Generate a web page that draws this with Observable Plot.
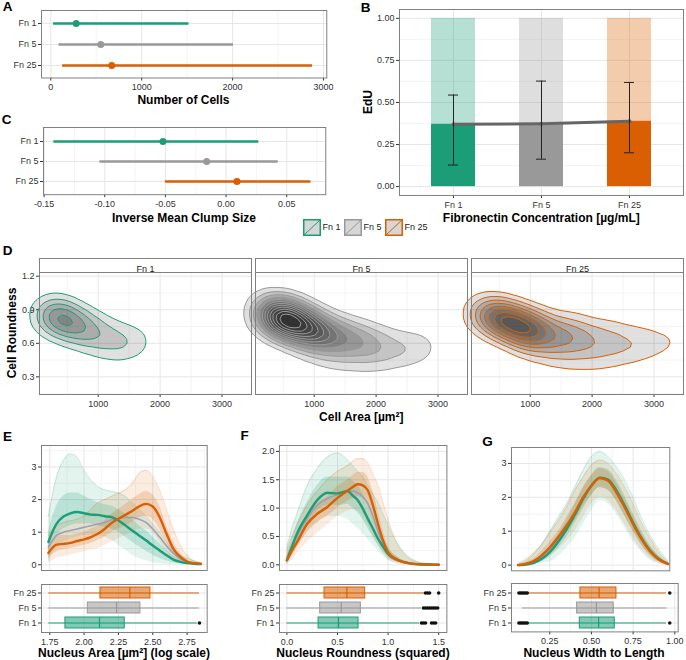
<!DOCTYPE html>
<html>
<head>
<meta charset="utf-8">
<script src="https://cdn.jsdelivr.net/npm/d3@7"></script>
<script src="https://cdn.jsdelivr.net/npm/@observablehq/plot@0.6"></script>
<style>
html,body{margin:0;padding:0;background:#fff;}
#fig{position:relative;width:686px;height:660px;overflow:hidden;background:#fff;font-family:"Liberation Sans",Arial,Helvetica,sans-serif;color:#000;}
.t{position:absolute;white-space:nowrap;line-height:1;transform:translate(-50%,-50%);}
.title{font-weight:bold;font-size:12px;}
.letter{font-weight:bold;font-size:13.5px;}
.rot{transform:translate(-50%,-50%) rotate(-90deg);}
</style>
</head>
<body>
<div id="fig"></div>
<script>
// ================= DATA =================
const groups = ["Fn 1", "Fn 5", "Fn 25"];
const groupColors = ["#1b9e77", "#999999", "#d95f02"];

// A: Number of cells (range and mean)
const cellsLow = [30, 90, 130];
const cellsMean = [280, 550, 670];
const cellsHigh = [1520, 2010, 2880];
const cellTicks = [0, 1000, 2000, 3000];
const cellMinor = [500, 1500, 2500];

// C: Inverse mean clump size
const clumpLow = [-0.142, -0.104, -0.050];
const clumpMean = [-0.052, -0.016, 0.009];
const clumpHigh = [0.027, 0.043, 0.070];
const clumpTicks = [-0.15, -0.10, -0.05, 0.00, 0.05];
const clumpMinor = [-0.125, -0.075, -0.025, 0.025, 0.075];

// B: EdU
const eduTotal = [1, 1, 1];
const eduMean = [0.370, 0.374, 0.388];
const eduLow = [0.128, 0.163, 0.201];
const eduHigh = [0.544, 0.627, 0.619];
const eduTicks = [0, 0.25, 0.5, 0.75, 1];
const eduMinor = [0.125, 0.375, 0.625, 0.875];

// D: cell area vs roundness, weighted ridge points
const fn1Area   = [100, 250, 400, 550, 700, 850, 1000, 1150, 1300, 1450, 1600, 1700, 1800, 600, 900, 1200, 1450, 350];
const fn1Round  = [0.86, 0.84, 0.82, 0.79, 0.76, 0.73, 0.70, 0.67, 0.65, 0.63, 0.62, 0.62, 0.62, 0.65, 0.57, 0.53, 0.53, 0.92];
const fn1Weight = [1.5, 3, 3.5, 3, 2.4, 1.9, 1.5, 1.2, 1.0, 0.9, 0.8, 0.55, 0.3, 0.6, 0.7, 0.8, 0.6, 0.6];
const fn5Area   = [150, 300, 450, 600, 750, 900, 1050, 1200, 1400, 1600, 1800, 2000, 2250, 2500, 2750, 2950, 700, 1000, 1300, 1650, 2000, 2350, 2650, 400, 700];
const fn5Round  = [0.88, 0.85, 0.82, 0.80, 0.77, 0.74, 0.71, 0.68, 0.66, 0.64, 0.62, 0.60, 0.58, 0.57, 0.57, 0.58, 0.60, 0.52, 0.47, 0.44, 0.44, 0.47, 0.51, 0.92, 0.88];
const fn5Weight = [3, 5, 8, 8, 7, 6, 5, 4.5, 4, 3.3, 2.7, 2.2, 1.7, 1.4, 1.0, 0.6, 1, 1.2, 1.4, 1.4, 1.2, 0.8, 0.5, 1.5, 1.2];
const fn25Area   = [150, 300, 450, 600, 750, 900, 1050, 1200, 1400, 1600, 1800, 2000, 2250, 2500, 2750, 3000, 3250, 3400, 3450, 900, 1200, 1500, 1850, 2200, 2550, 2900, 1700, 2300, 2800];
const fn25Round  = [0.87, 0.86, 0.83, 0.80, 0.77, 0.74, 0.72, 0.70, 0.68, 0.66, 0.65, 0.64, 0.63, 0.62, 0.61, 0.61, 0.61, 0.62, 0.62, 0.58, 0.52, 0.48, 0.45, 0.46, 0.49, 0.52, 0.78, 0.74, 0.70];
const fn25Weight = [2, 3.2, 4.5, 5.5, 5.5, 5, 4.3, 3.7, 3.1, 2.7, 2.3, 2.0, 1.7, 1.4, 1.1, 0.9, 0.7, 0.5, 0.3, 1, 1.3, 1.5, 1.5, 1.3, 1, 0.6, 0.8, 0.7, 0.4];
const areaTicks = [1000, 2000, 3000];
const areaMinor = [500, 1500, 2500];
const roundTicks = [0.3, 0.6, 0.9, 1.2];
const roundMinor = [0.15, 0.45, 0.75, 1.05];

// E: nucleus area (log) densities: mean curves, outer envelope and dense core of the per-well curves
const eX        = [1.74, 1.80, 1.85, 1.90, 1.95, 2.00, 2.05, 2.10, 2.15, 2.20, 2.25, 2.30, 2.35, 2.40, 2.45, 2.50, 2.55, 2.60, 2.65, 2.70, 2.75, 2.80, 2.85];
const eFn1      = [0.70, 1.26, 1.48, 1.58, 1.62, 1.58, 1.54, 1.53, 1.49, 1.46, 1.36, 1.21, 1.05, 0.90, 0.75, 0.59, 0.44, 0.29, 0.16, 0.09, 0.05, 0.03, 0.02];
const eFn5      = [0.55, 0.90, 1.00, 1.05, 1.10, 1.15, 1.20, 1.25, 1.30, 1.38, 1.42, 1.45, 1.45, 1.40, 1.30, 1.10, 0.85, 0.58, 0.35, 0.18, 0.08, 0.04, 0.02];
const eFn25     = [0.36, 0.62, 0.64, 0.67, 0.73, 0.78, 0.85, 0.95, 1.10, 1.28, 1.41, 1.53, 1.65, 1.79, 1.87, 1.79, 1.46, 0.95, 0.49, 0.24, 0.10, 0.05, 0.03];
const eFn1Lo    = [0.10, 0.50, 0.70, 0.80, 0.85, 0.90, 0.90, 0.90, 0.85, 0.75, 0.60, 0.45, 0.30, 0.20, 0.12, 0.06, 0.03, 0.02, 0.01, 0, 0, 0, 0];
const eFn1Hi    = [1.50, 2.70, 3.20, 3.40, 3.30, 2.90, 2.60, 2.40, 2.30, 2.25, 2.20, 2.10, 1.90, 1.70, 1.50, 1.25, 1.00, 0.70, 0.45, 0.30, 0.20, 0.12, 0.07];
const eFn1CoreLo = [0.40, 0.90, 1.10, 1.20, 1.25, 1.25, 1.25, 1.20, 1.15, 1.10, 1.00, 0.85, 0.70, 0.55, 0.42, 0.30, 0.20, 0.12, 0.06, 0.03, 0.01, 0, 0];
const eFn1CoreHi = [1.00, 1.80, 2.10, 2.20, 2.20, 2.10, 2.00, 1.90, 1.85, 1.80, 1.70, 1.55, 1.40, 1.20, 1.05, 0.85, 0.65, 0.45, 0.28, 0.16, 0.09, 0.05, 0.03];
const eFn25Lo   = [0.05, 0.20, 0.25, 0.30, 0.35, 0.40, 0.45, 0.50, 0.60, 0.70, 0.80, 0.90, 1.00, 1.10, 1.10, 1.00, 0.70, 0.40, 0.20, 0.10, 0.03, 0.01, 0];
const eFn25Hi   = [0.90, 1.20, 1.30, 1.35, 1.40, 1.50, 1.70, 1.90, 2.00, 2.10, 2.20, 2.30, 2.50, 2.80, 2.90, 2.70, 2.30, 1.70, 1.10, 0.60, 0.30, 0.12, 0.05];
const eFn25CoreLo = [0.20, 0.40, 0.45, 0.50, 0.55, 0.60, 0.65, 0.75, 0.85, 1.00, 1.10, 1.20, 1.30, 1.45, 1.50, 1.40, 1.10, 0.70, 0.35, 0.15, 0.06, 0.02, 0];
const eFn25CoreHi = [0.55, 0.85, 0.90, 0.90, 0.95, 1.00, 1.10, 1.20, 1.35, 1.55, 1.70, 1.85, 2.00, 2.15, 2.25, 2.15, 1.80, 1.20, 0.70, 0.35, 0.15, 0.07, 0.04];
const eBoxLow = [1.743, 1.743, 1.743];
const eBoxQ1  = [1.864, 2.027, 2.119];
const eBoxMed = [2.112, 2.236, 2.333];
const eBoxQ3  = [2.296, 2.410, 2.483];
const eBoxHigh = [2.825, 2.840, 2.840];
const eOutFn1 = [2.84], eOutFn5 = [], eOutFn25 = [];
const eTicks = [1.75, 2.00, 2.25, 2.50, 2.75];
const eMinor = [1.875, 2.125, 2.375, 2.625, 2.875];
const eYTicks = [0, 1, 2, 3];
const eYMinor = [0.5, 1.5, 2.5, 3.5];

// F: nucleus roundness (squared)
const fX        = [0, 0.05, 0.1, 0.2, 0.3, 0.4, 0.5, 0.6, 0.65, 0.7, 0.75, 0.8, 0.85, 0.9, 0.95, 1.0, 1.1, 1.2, 1.3, 1.4, 1.5];
const fFn1      = [0.08, 0.32, 0.55, 0.87, 1.14, 1.27, 1.26, 1.30, 1.22, 1.14, 0.99, 0.81, 0.64, 0.46, 0.32, 0.19, 0.08, 0.03, 0.01, 0.005, 0];
const fFn5      = [0.08, 0.30, 0.50, 0.82, 1.05, 1.17, 1.24, 1.30, 1.30, 1.27, 1.20, 1.08, 0.86, 0.60, 0.38, 0.21, 0.08, 0.03, 0.01, 0, 0];
const fFn25     = [0.08, 0.25, 0.40, 0.72, 0.90, 1.02, 1.18, 1.31, 1.37, 1.42, 1.40, 1.31, 1.05, 0.72, 0.43, 0.22, 0.08, 0.03, 0.01, 0.005, 0];
const fFn1Lo    = [0, 0.12, 0.30, 0.55, 0.75, 0.85, 0.85, 0.80, 0.72, 0.65, 0.55, 0.45, 0.35, 0.25, 0.15, 0.08, 0.02, 0, 0, 0, 0];
const fFn1Hi    = [0.30, 0.65, 0.90, 1.40, 1.70, 1.90, 1.97, 1.85, 1.75, 1.65, 1.55, 1.40, 1.25, 1.10, 0.90, 0.70, 0.35, 0.15, 0.05, 0.02, 0.01];
const fFn1CoreLo = [0.03, 0.22, 0.42, 0.72, 0.95, 1.05, 1.05, 1.07, 1.00, 0.92, 0.80, 0.64, 0.50, 0.35, 0.23, 0.13, 0.05, 0.015, 0, 0, 0];
const fFn1CoreHi = [0.15, 0.45, 0.72, 1.10, 1.40, 1.55, 1.55, 1.55, 1.48, 1.40, 1.25, 1.05, 0.85, 0.65, 0.47, 0.30, 0.13, 0.05, 0.02, 0.01, 0];
const fFn25Lo   = [0, 0.08, 0.20, 0.40, 0.55, 0.70, 0.85, 0.95, 0.97, 0.95, 0.85, 0.70, 0.50, 0.35, 0.20, 0.10, 0.02, 0, 0, 0, 0];
const fFn25Hi   = [0.25, 0.50, 0.70, 1.05, 1.30, 1.50, 1.65, 1.75, 1.82, 1.87, 1.87, 1.80, 1.60, 1.40, 1.10, 0.80, 0.35, 0.12, 0.04, 0.01, 0];
const fFn25CoreLo = [0.03, 0.17, 0.30, 0.58, 0.74, 0.86, 1.00, 1.12, 1.17, 1.20, 1.17, 1.05, 0.82, 0.55, 0.30, 0.15, 0.04, 0.01, 0, 0, 0];
const fFn25CoreHi = [0.15, 0.36, 0.52, 0.88, 1.08, 1.20, 1.38, 1.50, 1.57, 1.63, 1.63, 1.55, 1.30, 0.95, 0.60, 0.33, 0.13, 0.05, 0.02, 0.005, 0];
const fBoxLow = [0, 0, 0];
const fBoxQ1  = [0.313, 0.329, 0.372];
const fBoxMed = [0.510, 0.537, 0.593];
const fBoxQ3  = [0.708, 0.731, 0.774];
const fBoxHigh = [1.31, 1.33, 1.36];
const fOutFn1 = [1.33, 1.35, 1.37, 1.43, 1.45, 1.47];
const fOutFn5 = [1.35, 1.37, 1.39, 1.41, 1.43, 1.45, 1.47, 1.49];
const fOutFn25 = [1.37, 1.39, 1.41, 1.50];
const fTicks = [0, 0.5, 1.0, 1.5];
const fMinor = [0.25, 0.75, 1.25];
const fYTicks = [0, 0.5, 1.0, 1.5, 2.0];
const fYMinor = [0.25, 0.75, 1.25, 1.75];

// G: nucleus width to length
const gX        = [0.06, 0.1, 0.15, 0.2, 0.25, 0.3, 0.35, 0.4, 0.45, 0.5, 0.55, 0.6, 0.65, 0.7, 0.75, 0.8, 0.85, 0.9, 0.96];
const gFn1      = [0, 0.01, 0.06, 0.18, 0.38, 0.68, 1.05, 1.48, 1.95, 2.35, 2.58, 2.52, 2.20, 1.75, 1.25, 0.80, 0.44, 0.20, 0.04];
const gFn5      = [0, 0.02, 0.08, 0.22, 0.44, 0.75, 1.10, 1.50, 1.97, 2.35, 2.56, 2.50, 2.17, 1.72, 1.23, 0.78, 0.43, 0.19, 0.03];
const gFn25     = [0, 0.03, 0.11, 0.28, 0.52, 0.82, 1.16, 1.55, 2.00, 2.34, 2.57, 2.49, 2.14, 1.70, 1.21, 0.77, 0.42, 0.18, 0.03];
const gFn1Lo    = [0, 0, 0, 0.05, 0.10, 0.25, 0.50, 0.80, 1.20, 1.60, 1.90, 1.80, 1.50, 1.10, 0.70, 0.40, 0.15, 0.05, 0];
const gFn1Hi    = [0.02, 0.10, 0.30, 0.60, 1.00, 1.40, 1.80, 2.30, 2.80, 3.20, 3.35, 3.20, 2.90, 2.50, 2.00, 1.40, 0.90, 0.50, 0.12];
const gFn1CoreLo = [0, 0, 0.02, 0.10, 0.25, 0.50, 0.82, 1.22, 1.65, 2.05, 2.28, 2.20, 1.90, 1.45, 1.00, 0.60, 0.30, 0.12, 0.02];
const gFn1CoreHi = [0.01, 0.03, 0.12, 0.30, 0.55, 0.90, 1.30, 1.78, 2.25, 2.65, 2.88, 2.82, 2.50, 2.05, 1.52, 1.02, 0.60, 0.30, 0.07];
const gFn25Lo   = [0, 0, 0.02, 0.10, 0.25, 0.45, 0.70, 1.00, 1.40, 1.80, 2.00, 1.90, 1.60, 1.20, 0.80, 0.45, 0.20, 0.05, 0];
const gFn25Hi   = [0.05, 0.15, 0.35, 0.60, 0.95, 1.30, 1.70, 2.20, 2.60, 2.95, 3.10, 3.00, 2.70, 2.30, 1.80, 1.25, 0.80, 0.40, 0.10];
const gFn25CoreLo = [0, 0.01, 0.06, 0.18, 0.38, 0.65, 0.95, 1.30, 1.72, 2.06, 2.30, 2.22, 1.88, 1.45, 1.00, 0.60, 0.30, 0.10, 0.01];
const gFn25CoreHi = [0.02, 0.07, 0.18, 0.40, 0.68, 1.00, 1.40, 1.82, 2.30, 2.63, 2.85, 2.77, 2.42, 1.96, 1.45, 0.96, 0.56, 0.28, 0.06];
const gBoxLow = [0.125, 0.085, 0.125];
const gBoxQ1  = [0.430, 0.414, 0.434];
const gBoxMed = [0.543, 0.530, 0.546];
const gBoxQ3  = [0.640, 0.634, 0.650];
const gBoxHigh = [0.950, 0.954, 0.950];
const gOutFn1 = [0.065, 0.075, 0.085, 0.095, 0.105, 0.115, 0.97];
const gOutFn5 = [];
const gOutFn25 = [0.065, 0.075, 0.085, 0.095, 0.105, 0.115, 0.97];
const gTicks = [0.25, 0.50, 0.75, 1.00];
const gMinor = [0.125, 0.375, 0.625, 0.875];
const gYTicks = [0, 1, 2, 3];
const gYMinor = [0.5, 1.5, 2.5];

// ================= STYLE =================
const [GREEN, GRAY, ORANGE] = groupColors;
const MAJOR = "#e6e6e6", MINOR = "#f4f4f4", BORDER = "#808080";
const fig = document.getElementById("fig");
const baseStyle = {fontFamily: '"Liberation Sans", Arial, Helvetica, sans-serif', fontSize: "9px", color: "#333", background: "none", overflow: "visible"};
const colorScale = {domain: groups, range: groupColors};

function place(frame, margins, opts) {
  const [x0, y0, x1, y1] = frame;
  const [mt, mr, mb, ml] = margins;
  const svg = Plot.plot({
    width: x1 - x0 + ml + mr,
    height: y1 - y0 + mt + mb,
    marginTop: mt, marginRight: mr, marginBottom: mb, marginLeft: ml,
    style: baseStyle,
    ...opts
  });
  svg.style.position = "absolute";
  svg.style.left = (x0 - ml) + "px";
  svg.style.top = (y0 - mt) + "px";
  svg.style.maxWidth = "none";
  svg.style.overflow = "visible";
  fig.appendChild(svg);
  return svg;
}
function text(str, x, y, cls) {
  const d = document.createElement("div");
  d.className = "t " + cls;
  d.textContent = str;
  d.style.left = x + "px";
  d.style.top = y + "px";
  fig.appendChild(d);
}
const inside = (arr, dom) => arr.filter(v => v >= dom[0] && v <= dom[1]);

// ================= PANEL A =================
const aTable = groups.map((g, i) => ({g, lo: cellsLow[i], mid: cellsMean[i], hi: cellsHigh[i]}));
place([40.7, 9.5, 326, 77], [2, 4, 18, 38], {
  x: {domain: [-102, 3036], ticks: cellTicks, tickFormat: d => String(d), label: null, tickSize: 3, tickPadding: 3},
  y: {type: "point", domain: groups, padding: 0.6, label: null, tickSize: 3, tickPadding: 2},
  color: colorScale,
  marks: [
    Plot.ruleX(cellMinor, {stroke: MINOR}),
    Plot.ruleX(cellTicks, {stroke: MAJOR}),
    Plot.ruleY(groups, {stroke: MAJOR}),
    Plot.ruleY(aTable, {y: "g", x1: "lo", x2: "hi", stroke: "g", strokeWidth: 2.7}),
    Plot.dot(aTable, {y: "g", x: "mid", fill: "g", r: 3.5}),
    Plot.frame({stroke: BORDER})
  ]
});

// ================= PANEL C =================
const cTable = groups.map((g, i) => ({g, lo: clumpLow[i], mid: clumpMean[i], hi: clumpHigh[i]}));
place([42.7, 127.4, 325, 194.6], [2, 4, 18, 40], {
  x: {domain: [-0.1505, 0.0822], ticks: clumpTicks, tickFormat: d => d.toFixed(2), label: null, tickSize: 3, tickPadding: 3},
  y: {type: "point", domain: groups, padding: 0.6, label: null, tickSize: 3, tickPadding: 2},
  color: colorScale,
  marks: [
    Plot.ruleX(clumpMinor, {stroke: MINOR}),
    Plot.ruleX(clumpTicks, {stroke: MAJOR}),
    Plot.ruleY(groups, {stroke: MAJOR}),
    Plot.ruleY(cTable, {y: "g", x1: "lo", x2: "hi", stroke: "g", strokeWidth: 2.7}),
    Plot.dot(cTable, {y: "g", x: "mid", fill: "g", r: 3.5}),
    Plot.frame({stroke: BORDER})
  ]
});

// ================= PANEL B =================
const bTable = groups.map((g, i) => ({g, total: eduTotal[i], edu: eduMean[i], lo: eduLow[i], hi: eduHigh[i]}));
place([399.3, 8.8, 683.3, 194.75], [2, 2, 18, 30], {
  x: {type: "band", domain: groups, paddingInner: 0.5, paddingOuter: 0.35, label: null, tickSize: 3, tickPadding: 3},
  y: {domain: [-0.0525, 1.0525], ticks: eduTicks, tickFormat: d => d.toFixed(2), label: null, tickSize: 3, tickPadding: 2},
  color: colorScale,
  marks: [
    Plot.ruleY(eduMinor, {stroke: MINOR}),
    Plot.ruleY(eduTicks, {stroke: MAJOR}),
    Plot.ruleX(groups, {stroke: MAJOR}),
    Plot.barY(bTable, {x: "g", y: "total", fill: "g", fillOpacity: 0.32}),
    Plot.barY(bTable, {x: "g", y: "edu", fill: "g"}),
    Plot.line(bTable, {x: "g", y: "edu", stroke: "#666", strokeWidth: 3}),
    Plot.dot(bTable, {x: "g", y: "edu", fill: "#666", r: 2}),
    Plot.ruleX(bTable, {x: "g", y1: "lo", y2: "hi", stroke: "#222", strokeWidth: 1}),
    Plot.tickY(bTable, {x: "g", y: "lo", stroke: "#222", insetLeft: 17, insetRight: 17}),
    Plot.tickY(bTable, {x: "g", y: "hi", stroke: "#222", insetLeft: 17, insetRight: 17}),
    Plot.frame({stroke: BORDER})
  ]
});

// ================= LEGEND =================
const legend = document.createElement("div");
legend.style.cssText = "position:absolute;left:302.5px;top:218.5px;display:flex;align-items:center;gap:3px;font-size:9px;color:#222;";
groups.forEach((g, i) => {
  const item = document.createElement("div");
  item.style.cssText = "display:flex;align-items:center;gap:2px;";
  const ns = "http://www.w3.org/2000/svg";
  const s = document.createElementNS(ns, "svg");
  s.setAttribute("width", 18); s.setAttribute("height", 17);
  const r = document.createElementNS(ns, "rect");
  r.setAttribute("x", 0.75); r.setAttribute("y", 0.75); r.setAttribute("width", 16.5); r.setAttribute("height", 15.5);
  r.setAttribute("fill", "#d6d6d6"); r.setAttribute("stroke", groupColors[i]); r.setAttribute("stroke-width", 1.5);
  const l = document.createElementNS(ns, "line");
  l.setAttribute("x1", 1); l.setAttribute("y1", 16); l.setAttribute("x2", 17); l.setAttribute("y2", 1);
  l.setAttribute("stroke", groupColors[i]); l.setAttribute("stroke-width", 1);
  s.appendChild(r); s.appendChild(l);
  const tx = document.createElement("span");
  tx.textContent = g;
  item.appendChild(s); item.appendChild(tx);
  legend.appendChild(item);
});
fig.appendChild(legend);

// ================= PANEL D =================
const dTable = [
  ...fn1Area.map((a, i) => ({g: "Fn 1", area: a, round: fn1Round[i], w: fn1Weight[i]})),
  ...fn5Area.map((a, i) => ({g: "Fn 5", area: a, round: fn5Round[i], w: fn5Weight[i]})),
  ...fn25Area.map((a, i) => ({g: "Fn 25", area: a, round: fn25Round[i], w: fn25Weight[i]}))
];
const D_H = 394.3 - 272.3;
place([38.3, 272.3, 684.3, 394.3], [16, 2, 14, 36], {
  fx: {domain: groups, paddingInner: 0.018, paddingOuter: 0, axis: null, label: null},
  x: {domain: [52, 3476], ticks: areaTicks, tickFormat: d => String(d), label: null, tickSize: 3, tickPadding: 3},
  y: {domain: [0.142, 1.233], ticks: roundTicks, tickFormat: d => d.toFixed(1), label: null, tickSize: 3, tickPadding: 2},
  color: colorScale,
  marks: [
    Plot.ruleX(areaMinor, {stroke: MINOR}),
    Plot.ruleY(roundMinor, {stroke: MINOR}),
    Plot.ruleX(areaTicks, {stroke: MAJOR}),
    Plot.ruleY(roundTicks, {stroke: MAJOR}),
    Plot.density(dTable, {x: "area", y: "round", weight: "w", fx: "g", fill: "black", fillOpacity: 0.12, stroke: "g", strokeWidth: 1, bandwidth: 11, thresholds: 13}),
    Plot.frame({stroke: BORDER}),
    Plot.frame({stroke: BORDER, insetTop: -14, insetBottom: D_H}),
    Plot.text(groups, {fx: d => d, text: d => d, frameAnchor: "top", dy: -7, fill: "#1a1a1a"})
  ]
});

// ================= PANELS E, F, G =================
function curvePanel(frame, s, xDom, yDom, xMaj, xMin, yMaj, yMin, yFmt) {
  const rows = s.x.map((x, i) => ({
    x, m1: s.m1[i], m5: s.m5[i], m25: s.m25[i],
    lo1: s.lo1[i], hi1: s.hi1[i], clo1: s.clo1[i], chi1: s.chi1[i],
    lo25: s.lo25[i], hi25: s.hi25[i], clo25: s.clo25[i], chi25: s.chi25[i]
  }));
  const curve = "monotone-x";
  place(frame, [2, 2, 2, 22], {
    x: {domain: xDom, axis: null},
    y: {domain: yDom, ticks: yMaj, tickFormat: yFmt, label: null, tickSize: 3, tickPadding: 2},
    marks: [
      Plot.ruleX(inside(xMin, xDom), {stroke: MINOR}),
      Plot.ruleY(inside(yMin, yDom), {stroke: MINOR}),
      Plot.ruleX(inside(xMaj, xDom), {stroke: MAJOR}),
      Plot.ruleY(yMaj, {stroke: MAJOR}),
      Plot.areaY(rows, {x: "x", y1: "lo1", y2: "hi1", fill: GREEN, fillOpacity: 0.12, curve}),
      Plot.areaY(rows, {x: "x", y1: "lo25", y2: "hi25", fill: ORANGE, fillOpacity: 0.12, curve}),
      Plot.areaY(rows, {x: "x", y1: "clo1", y2: "chi1", fill: GREEN, fillOpacity: 0.2, curve}),
      Plot.areaY(rows, {x: "x", y1: "clo25", y2: "chi25", fill: ORANGE, fillOpacity: 0.2, curve}),
      Plot.line(rows, {x: "x", y: "hi1", stroke: GREEN, strokeOpacity: 0.3, strokeWidth: 0.6, curve}),
      Plot.line(rows, {x: "x", y: "hi25", stroke: ORANGE, strokeOpacity: 0.3, strokeWidth: 0.6, curve}),
      Plot.line(rows, {x: "x", y: "m5", stroke: "#a09eb6", strokeWidth: 1.6, curve}),
      Plot.line(rows, {x: "x", y: "m1", stroke: GREEN, strokeWidth: 2.4, curve}),
      Plot.line(rows, {x: "x", y: "m25", stroke: ORANGE, strokeWidth: 2.4, curve}),
      Plot.frame({stroke: BORDER})
    ]
  });
}
function boxPanel(frame, lo, q1, med, q3, hi, out1, out5, out25, xDom, xMaj, xMin, xFmt) {
  const boxes = groups.map((g, i) => ({g, lo: lo[i], q1: q1[i], med: med[i], q3: q3[i], hi: hi[i]}));
  const outs = [
    ...out1.map(x => ({g: "Fn 1", x})),
    ...out5.map(x => ({g: "Fn 5", x})),
    ...out25.map(x => ({g: "Fn 25", x}))
  ];
  place(frame, [2, 4, 16, 36], {
    x: {domain: xDom, ticks: xMaj, tickFormat: xFmt, label: null, tickSize: 3, tickPadding: 3},
    y: {type: "band", domain: ["Fn 25", "Fn 5", "Fn 1"], paddingInner: 0.25, paddingOuter: 0.225, label: null, tickSize: 3, tickPadding: 2},
    color: colorScale,
    marks: [
      Plot.ruleX(inside(xMin, xDom), {stroke: MINOR}),
      Plot.ruleX(inside(xMaj, xDom), {stroke: MAJOR}),
      Plot.ruleY(groups, {stroke: MAJOR}),
      Plot.ruleY(boxes, {y: "g", x1: "lo", x2: "hi", stroke: "g", strokeWidth: 1}),
      Plot.barX(boxes, {y: "g", x1: "q1", x2: "q3", fill: "g", fillOpacity: 0.55, stroke: "g", strokeWidth: 1}),
      Plot.tickX(boxes, {y: "g", x: "med", stroke: "g", strokeWidth: 1.2}),
      Plot.dot(outs, {y: "g", x: "x", fill: "#111", r: 1.8}),
      Plot.frame({stroke: BORDER})
    ]
  });
}

// E
curvePanel([41, 445, 206.7, 570],
  {x: eX, m1: eFn1, m5: eFn5, m25: eFn25, lo1: eFn1Lo, hi1: eFn1Hi, clo1: eFn1CoreLo, chi1: eFn1CoreHi,
   lo25: eFn25Lo, hi25: eFn25Hi, clo25: eFn25CoreLo, chi25: eFn25CoreHi},
  [1.69, 2.896], [-0.175, 3.66], eTicks, eMinor, eYTicks, eYMinor, d => String(d));
boxPanel([41, 584.3, 206.7, 632.3], eBoxLow, eBoxQ1, eBoxMed, eBoxQ3, eBoxHigh, eOutFn1, eOutFn5, eOutFn25,
  [1.69, 2.896], eTicks, eMinor, d => d.toFixed(2));
// F
curvePanel([279.3, 445, 446.7, 570],
  {x: fX, m1: fFn1, m5: fFn5, m25: fFn25, lo1: fFn1Lo, hi1: fFn1Hi, clo1: fFn1CoreLo, chi1: fFn1CoreHi,
   lo25: fFn25Lo, hi25: fFn25Hi, clo25: fFn25CoreLo, chi25: fFn25CoreHi},
  [-0.073, 1.581], [-0.1, 2.104], fTicks, fMinor, fYTicks, fYMinor, d => d.toFixed(1));
boxPanel([279.3, 584.3, 446.7, 632.3], fBoxLow, fBoxQ1, fBoxMed, fBoxQ3, fBoxHigh, fOutFn1, fOutFn5, fOutFn25,
  [-0.073, 1.581], fTicks, fMinor, d => d.toFixed(1));
// G
curvePanel([511, 446.7, 669.3, 570],
  {x: gX, m1: gFn1, m5: gFn5, m25: gFn25, lo1: gFn1Lo, hi1: gFn1Hi, clo1: gFn1CoreLo, chi1: gFn1CoreHi,
   lo25: gFn25Lo, hi25: gFn25Hi, clo25: gFn25CoreLo, chi25: gFn25CoreHi},
  [0.0204, 0.970], [-0.168, 3.47], gTicks, gMinor, gYTicks, gYMinor, d => String(d));
boxPanel([511, 583.3, 677.7, 631.7], gBoxLow, gBoxQ1, gBoxMed, gBoxQ3, gBoxHigh, gOutFn1, gOutFn5, gOutFn25,
  [0.0204, 1.0204], gTicks, gMinor, d => d.toFixed(2));

// ================= TEXT =================
text("A", 7.5, 6.5, "letter");
text("B", 365.5, 8, "letter");
text("C", 6.5, 119.5, "letter");
text("D", 7.5, 251, "letter");
text("E", 7.5, 437, "letter");
text("F", 244.5, 435.5, "letter");
text("G", 487.5, 442, "letter");
text("Number of Cells", 183.4, 99.5, "title");
text("Inverse Mean Clump Size", 184, 217.5, "title");
text("Fibronectin Concentration [µg/mL]", 541.3, 218, "title");
text("EdU", 368, 102, "title rot");
text("Cell Roundness", 12, 333, "title rot");
text("Cell Area [µm²]", 361.3, 417, "title");
text("Nucleus Area [µm²] (log scale)", 124, 653, "title");
text("Nucleus Roundness (squared)", 363, 653, "title");
text("Nucleus Width to Length", 594, 652.5, "title");
</script>
</body>
</html>
